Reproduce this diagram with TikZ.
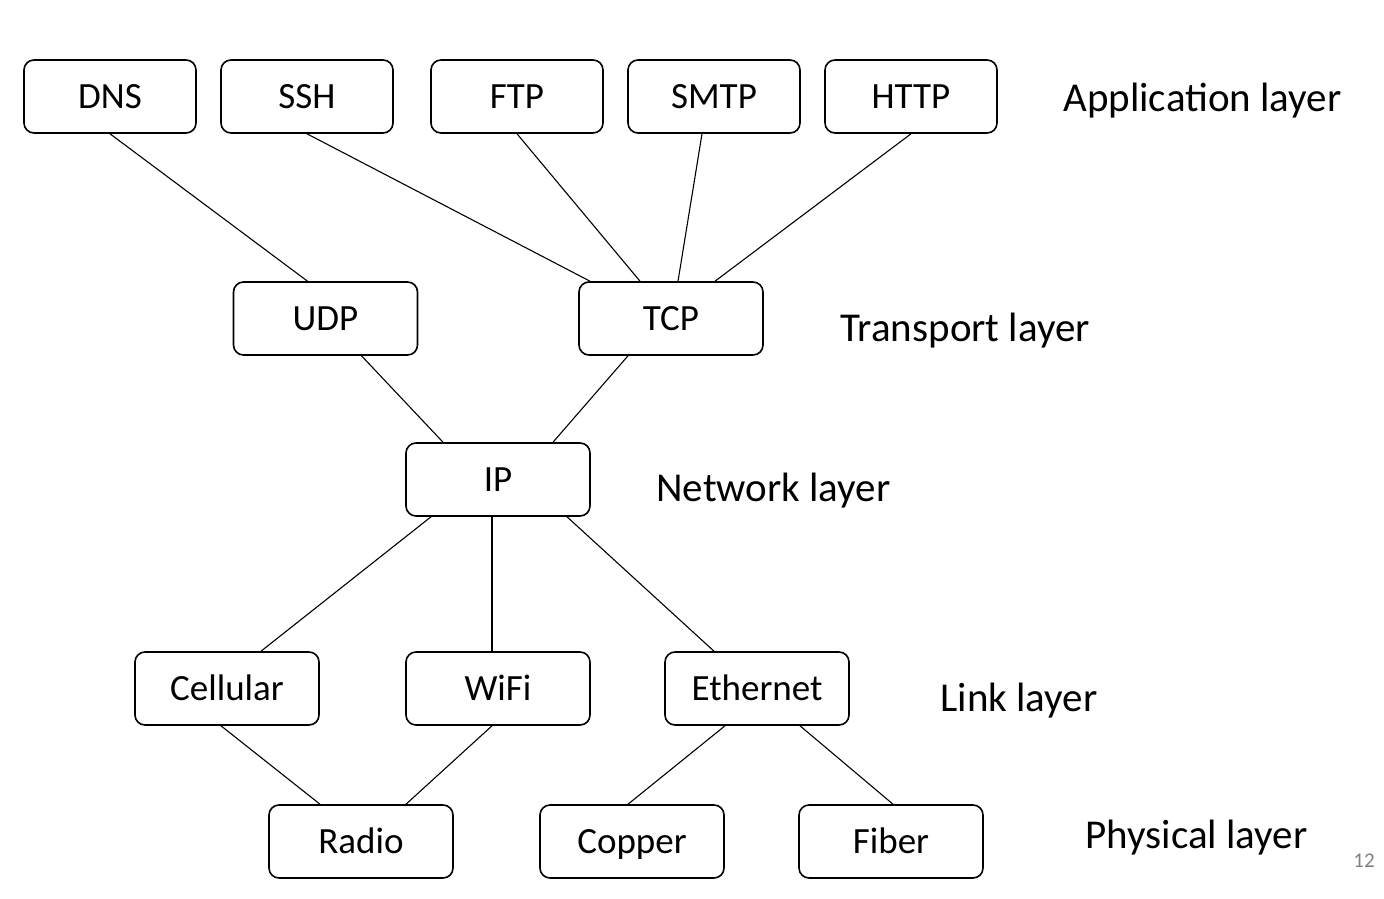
\documentclass[tikz,border=0pt]{standalone}
\usepackage{fontspec}
\setmainfont{Carlito}

\begin{document}
\begin{tikzpicture}[
    x=0.5pt, y=-0.5pt,
    proto/.style={
        draw, line width=0.8pt, rounded corners=5pt,
        minimum width=92pt, minimum height=36.5pt,
        font=\fontsize{18.5}{22}\selectfont,
        text height=12pt, text depth=0pt, inner sep=0pt
    },
    app/.style={proto, minimum width=86pt},
    layer/.style={anchor=base west, font=\fontsize{20.5}{24}\selectfont, inner sep=0pt},
    wire/.style={line width=0.55pt}
    ]
    \useasboundingbox (0,0) rectangle (1384,898);

    % application layer
    \node [app] (dns)  at (110,96.5) {DNS};
    \node [app] (ssh)  at (307,96.5) {SSH};
    \node [app] (ftp)  at (517,96.5) {FTP};
    \node [app] (smtp) at (714,96.5) {SMTP};
    \node [app] (http) at (911,96.5) {HTTP};

    % transport, network
    \node [proto] (udp) at (325.5,318.5) {UDP};
    \node [proto] (tcp) at (671,318.5) {TCP};
    \node [proto] (ip)  at (498,479.5) {IP};

    % link, physical
    \node [proto] (cell)  at (227,688.5) {Cellular};
    \node [proto] (wifi)  at (498,688.5) {WiFi};
    \node [proto] (eth)   at (757,688.5) {Ethernet};
    \node [proto] (radio) at (361,841.5) {Radio};
    \node [proto] (cu)    at (632,841.5) {Copper};
    \node [proto] (fiber) at (891,841.5) {Fiber};

    % layer names
    \node [layer] (lapp)  at (1063,112) {Application layer};
    \node [layer] (ltrp)  at (840,341) {Transport layer};
    \node [layer] (lnet)  at (656,501) {Network layer};
    \node [layer] (llink) at (940,711) {Link layer};
    \node [layer] (lphy)  at (1085,848) {Physical layer};
    \node [font=\fontsize{10.5}{12}\selectfont, text=black!50, inner sep=0pt] (page) at (1364,861) {12};

    % wires
    \draw [wire] (dns.south) -- ([xshift=-9pt]udp.north);
    \draw [wire] (ssh.south) -- ([xshift=-40.5pt]tcp.north);
    \draw [wire] (ftp.south) -- ([xshift=-15.5pt]tcp.north);
    \draw [wire] ([xshift=-6pt]smtp.south) -- ([xshift=3.5pt]tcp.north);
    \draw [wire] (http.south) -- ([xshift=22pt]tcp.north);
    \draw [wire] ([xshift=18pt]udp.south) -- ([xshift=-27.5pt]ip.north);
    \draw [wire] ([xshift=-21.5pt]tcp.south) -- ([xshift=27.5pt]ip.north);
    \draw [wire] ([xshift=-33.5pt]ip.south) -- ([xshift=17pt]cell.north);
    \draw [wire] ([xshift=-3pt]ip.south) -- ([xshift=-3pt]wifi.north);
    \draw [wire] ([xshift=34.5pt]ip.south) -- ([xshift=-21.5pt]eth.north);
    \draw [wire] ([xshift=-3pt]cell.south) -- ([xshift=-20.5pt]radio.north);
    \draw [wire] ([xshift=-3pt]wifi.south) -- ([xshift=22.5pt]radio.north);
    \draw [wire] ([xshift=-16pt]eth.south) -- ([xshift=-2pt]cu.north);
    \draw [wire] ([xshift=21.5pt]eth.south) -- ([xshift=1pt]fiber.north);
\end{tikzpicture}
\end{document}
